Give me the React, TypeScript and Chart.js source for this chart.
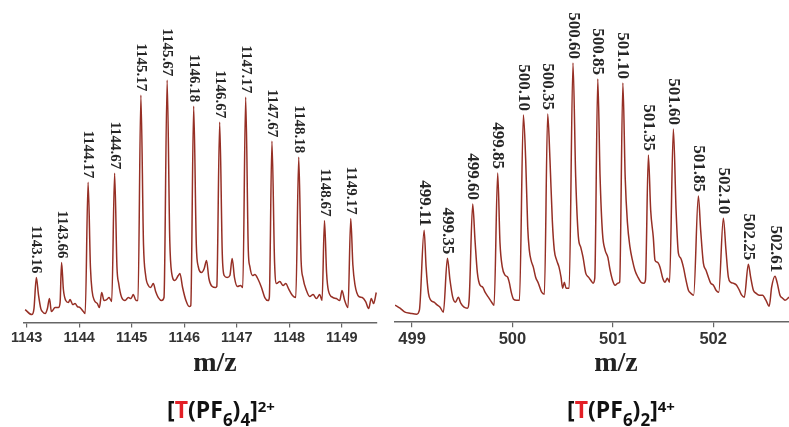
import React, { useEffect, useRef } from "react";
import { Chart, registerables } from "chart.js";

Chart.register(...registerables);

// ---------- Left spectrum: [T(PF6)4]2+ ----------
const leftTicks = [1143, 1144, 1145, 1146, 1147, 1148, 1149];
const leftMz = [
  1142.971, 1143.098, 1143.14, 1143.185, 1143.225, 1143.27, 1143.3, 1143.352, 1143.396, 1143.434,
  1143.472, 1143.542, 1143.605, 1143.637, 1143.665, 1143.7, 1143.745, 1143.795, 1143.827, 1143.878,
  1143.922, 1143.966, 1144.017, 1144.08, 1144.115, 1144.17, 1144.215, 1144.245, 1144.29, 1144.347,
  1144.385, 1144.429, 1144.474, 1144.524, 1144.569, 1144.62, 1144.675, 1144.72, 1144.753, 1144.81,
  1144.873, 1144.937, 1144.987, 1145.031, 1145.082, 1145.12, 1145.175, 1145.225, 1145.266, 1145.317,
  1145.361, 1145.412, 1145.456, 1145.507, 1145.57, 1145.615, 1145.675, 1145.725, 1145.76, 1145.824,
  1145.887, 1145.918, 1145.969, 1146.033, 1146.096, 1146.125, 1146.18, 1146.23, 1146.267, 1146.33,
  1146.381, 1146.425, 1146.47, 1146.533, 1146.597, 1146.62, 1146.675, 1146.725, 1146.761, 1146.818,
  1146.869, 1146.913, 1146.957, 1147.014, 1147.071, 1147.115, 1147.17, 1147.22, 1147.249, 1147.3,
  1147.344, 1147.408, 1147.471, 1147.534, 1147.598, 1147.62, 1147.67, 1147.72, 1147.757, 1147.82,
  1147.883, 1147.934, 1147.985, 1148.061, 1148.124, 1148.18, 1148.225, 1148.264, 1148.327, 1148.39,
  1148.454, 1148.517, 1148.58, 1148.624, 1148.67, 1148.71, 1148.745, 1148.833, 1148.897, 1148.96,
  1149.004, 1149.055, 1149.118, 1149.17, 1149.21, 1149.25, 1149.327, 1149.39, 1149.454, 1149.511,
  1149.561, 1149.605, 1149.656,
];
const leftIntensity = [
  13, 8, 14, 45, 28, 14, 11, 9, 14, 24,
  11, 15, 15, 20, 60, 33, 22, 20, 23, 18,
  19, 16, 15, 11, 9, 140, 55, 32, 22, 19,
  15, 30, 22, 23, 25, 21, 149, 55, 39, 25,
  22, 25, 24, 28, 22, 22, 227, 78, 47, 37,
  35, 39, 31, 25, 22, 25, 242, 82, 50, 42,
  47, 49, 35, 22, 16, 17, 216, 78, 56, 50,
  54, 62, 44, 36, 35, 36, 200, 68, 47, 45,
  47, 64, 45, 36, 37, 35, 225, 72, 56, 47,
  48, 43, 35, 25, 22, 25, 181, 60, 39, 41,
  37, 39, 34, 27, 25, 165, 62, 44, 32, 26,
  28, 24, 28, 22, 102, 50, 32, 25, 24, 22,
  32, 22, 15, 104, 58, 38, 26, 25, 21, 14,
  24, 19, 30,
];
const leftLabelText = [
  "1143.16", "1143.66", "1144.17", "1144.67", "1145.17", "1145.67", "1146.18",
  "1146.67", "1147.17", "1147.67", "1148.18", "1148.67", "1149.17",
];
const leftLabelMz = [
  1143.185, 1143.665, 1144.17, 1144.675, 1145.175, 1145.675, 1146.18,
  1146.675, 1147.17, 1147.67, 1148.18, 1148.67, 1149.17,
];
const leftLabelTop = [45, 60, 140, 149, 227, 242, 216, 200, 225, 181, 165, 102, 104];

// ---------- Right spectrum: [T(PF6)2]4+ ----------
const rightTicks = [499, 500, 501, 502];
const rightMz = [
  498.831, 498.88, 498.93, 498.98, 499.046, 499.073, 499.12, 499.14, 499.163, 499.186,
  499.219, 499.252, 499.279, 499.312, 499.352, 499.378, 499.405, 499.432, 499.461, 499.485,
  499.518, 499.551, 499.57, 499.604, 499.627, 499.651, 499.677, 499.704, 499.727, 499.76,
  499.793, 499.817, 499.853, 499.876, 499.899, 499.926, 499.952, 499.97, 499.988, 500.011,
  500.04, 500.07, 500.109, 500.132, 500.152, 500.168, 500.185, 500.208, 500.231, 500.258,
  500.291, 500.318, 500.351, 500.374, 500.397, 500.417, 500.44, 500.464, 500.484, 500.5,
  500.517, 500.534, 500.565, 500.603, 500.63, 500.657, 500.68, 500.703, 500.73, 500.757,
  500.78, 500.803, 500.82, 500.85, 500.873, 500.897, 500.923, 500.95, 500.973, 500.997,
  501.023, 501.05, 501.068, 501.1, 501.123, 501.145, 501.171, 501.195, 501.22, 501.25,
  501.28, 501.31, 501.325, 501.354, 501.377, 501.403, 501.42, 501.443, 501.47, 501.497,
  501.52, 501.543, 501.565, 501.603, 501.63, 501.653, 501.676, 501.703, 501.729, 501.753,
  501.776, 501.805, 501.852, 501.875, 501.902, 501.928, 501.952, 501.975, 502.002, 502.028,
  502.055, 502.101, 502.127, 502.151, 502.174, 502.2, 502.233, 502.26, 502.284, 502.31,
  502.35, 502.373, 502.4, 502.426, 502.459, 502.492, 502.525, 502.558, 502.582, 502.615,
  502.638, 502.665, 502.691, 502.715, 502.755,
];
const rightIntensity = [
  17, 14, 10, 9, 8, 12, 92, 55, 29, 22,
  20, 17, 15, 10, 64, 42, 25, 20, 25, 19,
  15, 14, 25, 118, 82, 49, 37, 35, 30, 25,
  20, 17, 149, 79, 55, 47, 45, 39, 30, 23,
  22, 22, 207, 162, 95, 72, 62, 55, 45, 39,
  30, 28, 208, 162, 102, 72, 62, 55, 45, 34,
  40, 34, 34, 259, 145, 85, 75, 65, 49, 45,
  42, 39, 44, 243, 145, 89, 72, 65, 52, 42,
  37, 39, 40, 239, 145, 100, 75, 62, 52, 45,
  40, 39, 42, 167, 112, 85, 62, 60, 55, 44,
  40, 44, 40, 193, 112, 69, 64, 55, 42, 32,
  29, 27, 126, 92, 59, 52, 45, 39, 37, 32,
  30, 104, 72, 45, 40, 39, 37, 32, 27, 25,
  58, 45, 32, 29, 27, 27, 22, 16, 35, 46,
  39, 27, 24, 22, 25,
];
const rightLabelText = [
  "499.11", "499.35", "499.60", "499.85", "500.10", "500.35", "500.60", "500.85",
  "501.10", "501.35", "501.60", "501.85", "502.10", "502.25", "502.61",
];
const rightLabelMz = [
  499.12, 499.352, 499.604, 499.853, 500.109, 500.351, 500.603, 500.85,
  501.1, 501.354, 501.603, 501.852, 502.101, 502.35, 502.615,
];
const rightLabelTop = [92, 64, 118, 149, 207, 208, 259, 243, 239, 167, 193, 126, 104, 58, 46];

const LINE_COLOR = "#962f25";

type SpectrumProps = {
  mz: number[];
  intensity: number[];
  ticks: number[];
  xMin: number;
  xMax: number;
  labelMz: number[];
  labelTop: number[];
  labelText: string[];
  labelFontSize: number;
  tickFontSize: number;
  left: number;
  width: number;
  height: number;
  padLeft: number;
  padRight: number;
};

function Spectrum(p: SpectrumProps) {
  const ref = useRef<HTMLCanvasElement | null>(null);
  useEffect(() => {
    if (!ref.current) return;
    const peakLabels = {
      id: "peakLabels",
      afterDatasetsDraw(chart: any) {
        const { ctx } = chart;
        const xs = chart.scales.x;
        const ys = chart.scales.y;
        ctx.save();
        ctx.font = `bold ${p.labelFontSize}px "Liberation Serif", "Times New Roman", serif`;
        ctx.fillStyle = "#262626";
        ctx.textAlign = "right";
        ctx.textBaseline = "middle";
        p.labelMz.forEach((m, i) => {
          const px = xs.getPixelForValue(m);
          const py = ys.getPixelForValue(p.labelTop[i]) - 4;
          ctx.save();
          ctx.translate(px, py);
          ctx.rotate(Math.PI / 2);
          ctx.fillText(p.labelText[i], 0, 0);
          ctx.restore();
        });
        ctx.restore();
      },
    };
    const chart = new Chart(ref.current, {
      type: "line",
      data: {
        datasets: [
          {
            data: p.mz.map((x, i) => ({ x, y: p.intensity[i] })),
            borderColor: LINE_COLOR,
            borderWidth: 1.5,
            pointRadius: 0,
            fill: false,
            cubicInterpolationMode: "monotone",
          },
        ],
      },
      options: {
        responsive: false,
        animation: false,
        devicePixelRatio: 1,
        layout: { padding: { left: p.padLeft, right: p.padRight, top: 12, bottom: 0 } },
        plugins: { legend: { display: false }, tooltip: { enabled: false }, title: { display: false } },
        scales: {
          x: {
            type: "linear",
            min: p.xMin,
            max: p.xMax,
            afterBuildTicks: (scale: any) => {
              scale.ticks = p.ticks.map((v) => ({ value: v }));
            },
            ticks: {
              includeBounds: false,
              padding: 2,
              color: "#333333",
              font: { family: '"Liberation Sans", Arial, sans-serif', size: p.tickFontSize, weight: "bold" },
              maxRotation: 0,
              callback: (v: any) => String(v),
            },
            grid: { drawOnChartArea: false, drawTicks: true, tickLength: 5, color: "#666666", lineWidth: 1.2 },
            border: { display: true, color: "#666666", width: 1.5 },
          },
          y: { display: false, min: 0, max: 310 },
        },
      },
      plugins: [peakLabels],
    } as any);
    return () => chart.destroy();
  }, []);
  return (
    <canvas
      ref={ref}
      width={p.width}
      height={p.height}
      style={{ position: "absolute", left: p.left, top: 0, width: p.width, height: p.height }}
    />
  );
}

const mzStyle: React.CSSProperties = {
  position: "absolute",
  top: 348,
  transform: "translateX(-50%)",
  fontFamily: '"Liberation Serif", "Times New Roman", serif',
  fontWeight: "bold",
  fontSize: 28,
  lineHeight: "28px",
  color: "#222",
  whiteSpace: "nowrap",
};

const subStyle: React.CSSProperties = {
  position: "absolute",
  top: 398,
  transform: "translateX(-50%)",
  fontFamily: '"Open Sans", "Noto Sans", sans-serif',
  fontWeight: 700,
  fontSize: 23,
  lineHeight: "23px",
  color: "#111",
  whiteSpace: "nowrap",
};

const lower: React.CSSProperties = { fontSize: 17, position: "relative", top: 8, verticalAlign: "baseline" };
const upper: React.CSSProperties = { fontSize: 15, position: "relative", top: -6, verticalAlign: "baseline" };
const red: React.CSSProperties = { color: "#e21f26" };

export default function App() {
  return (
    <div style={{ position: "absolute", left: 0, top: 0, width: 789, height: 427, background: "#fff", overflow: "hidden" }}>
      <Spectrum
        mz={leftMz}
        intensity={leftIntensity}
        ticks={leftTicks}
        xMin={1142.95}
        xMax={1149.67}
        labelMz={leftLabelMz}
        labelTop={leftLabelTop}
        labelText={leftLabelText}
        labelFontSize={15}
        tickFontSize={14.5}
        left={0}
        width={390}
        height={349}
        padLeft={24}
        padRight={13}
      />
      <Spectrum
        mz={rightMz}
        intensity={rightIntensity}
        ticks={rightTicks}
        xMin={498.83}
        xMax={502.755}
        labelMz={rightLabelMz}
        labelTop={rightLabelTop}
        labelText={rightLabelText}
        labelFontSize={17}
        tickFontSize={16.5}
        left={380}
        width={409}
        height={351}
        padLeft={15}
        padRight={0}
      />
      <div style={{ ...mzStyle, left: 215 }}>m/z</div>
      <div style={{ ...mzStyle, left: 616 }}>m/z</div>
      <div style={{ ...subStyle, left: 221 }}>
        [<span style={red}>T</span>(PF<span style={lower}>6</span>)<span style={lower}>4</span>]<span style={upper}>2+</span>
      </div>
      <div style={{ ...subStyle, left: 621 }}>
        [<span style={red}>T</span>(PF<span style={lower}>6</span>)<span style={lower}>2</span>]<span style={upper}>4+</span>
      </div>
    </div>
  );
}
